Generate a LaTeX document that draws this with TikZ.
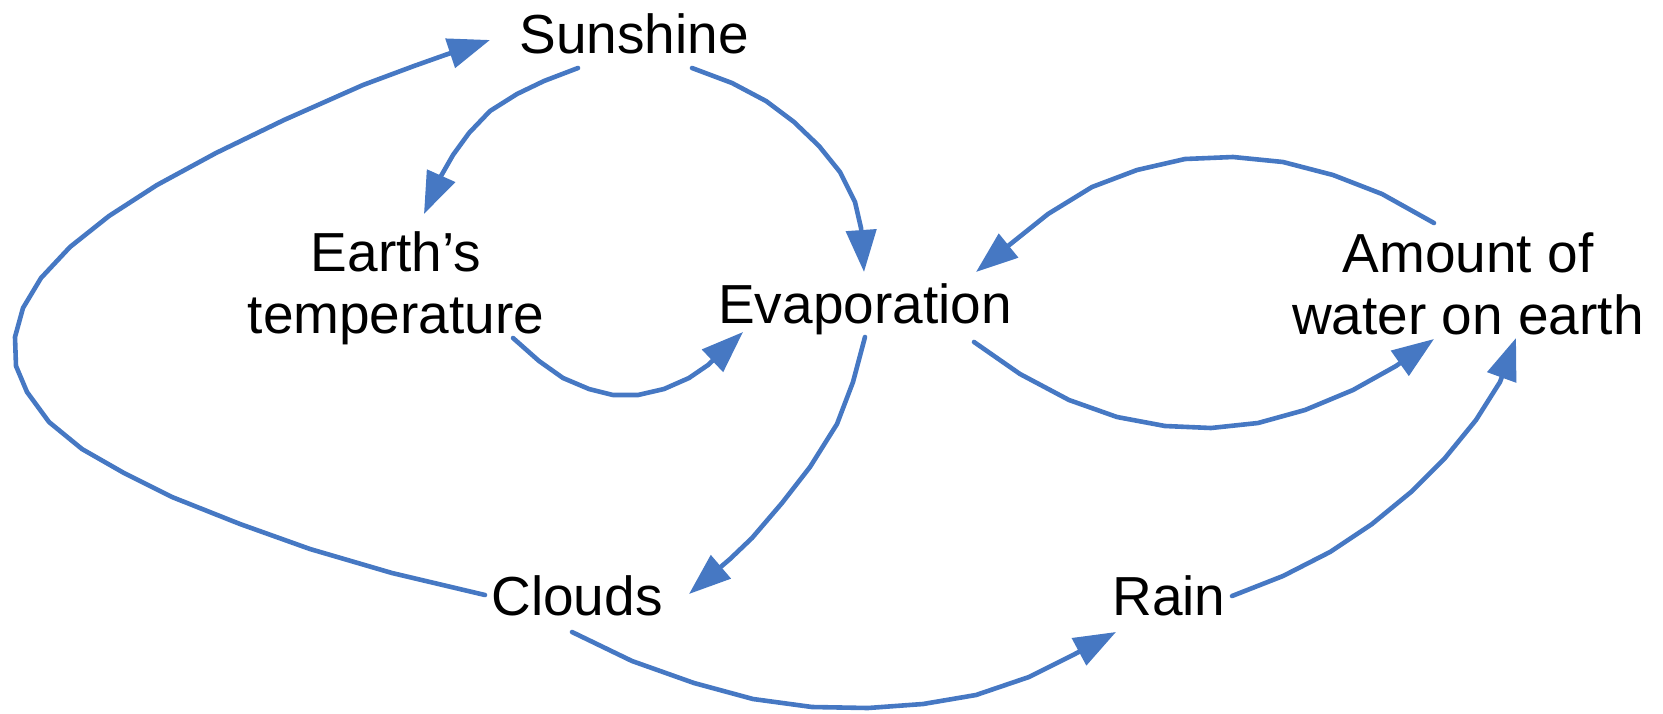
\documentclass[tikz,border=0pt]{standalone}
\usepackage{fontspec}
\setmainfont{Liberation Sans}
\usetikzlibrary{arrows.meta}
\definecolor{linkblue}{RGB}{70,120,195}
\begin{document}
\begin{tikzpicture}[x=1pt,y=-1pt,
  term/.style={font=\fontsize{55}{62}\selectfont, inner sep=0pt, align=center, anchor=base},
  link/.style={draw=linkblue, line width=4.6pt, line join=round, line cap=round,
    -{Triangle[length=42pt,width=30pt]}}]
\useasboundingbox (0,0) rectangle (1663,713);

% variables of the loop (base = baseline of the last line)
\node[term] (sun)    at (634,53)   {Sunshine};
\node[term] (temp)   at (396,333)  {Earth’s\\temperature};
\node[term] (evap)   at (865,323)  {Evaporation};
\node[term] (water)  at (1468,334) {Amount of\\water on earth};
\node[term] (clouds) at (577,615)  {Clouds};
\node[term] (rain)   at (1169,615) {Rain};

% end points of the causal links
\coordinate (sun-to-temp)    at (578,68);
\coordinate (temp-from-sun)  at (424,214);
\coordinate (sun-to-evap)    at (692,68);
\coordinate (evap-from-sun)  at (864,272);
\coordinate (temp-to-evap)   at (513,338);
\coordinate (evap-from-temp) at (743,332);
\coordinate (evap-to-clouds) at (865,337);
\coordinate (clouds-from-evap) at (689,594);
\coordinate (clouds-to-sun)  at (485,595);
\coordinate (sun-from-clouds) at (490,40);
\coordinate (evap-to-water)  at (974,342);
\coordinate (water-from-evap) at (1434,339);
\coordinate (water-to-evap)  at (1434,223);
\coordinate (evap-from-water) at (976,272);
\coordinate (clouds-to-rain) at (572,632);
\coordinate (rain-from-clouds) at (1116,632);
\coordinate (rain-to-water)  at (1232,596);
\coordinate (water-from-rain) at (1516,338);

% Sunshine -> Earth's temperature
\draw[link] (sun-to-temp) -- (544,81) -- (517,94) -- (490,111) -- (469,133)
  -- (453,155) -- (441,176) -- (temp-from-sun);
% Sunshine -> Evaporation
\draw[link] (sun-to-evap) -- (732,83) -- (766,101) -- (794,122) -- (819,146)
  -- (840,172) -- (855,202) -- (861,228) -- (evap-from-sun);
% Earth's temperature -> Evaporation
\draw[link] (temp-to-evap) -- (539,361) -- (563,378) -- (589,389) -- (613,395)
  -- (638,395) -- (664,389) -- (689,378) -- (708,365) -- (evap-from-temp);
% Evaporation -> Clouds
\draw[link] (evap-to-clouds) -- (853,382) -- (837,424) -- (810,467) -- (782,503)
  -- (752,538) -- (730,559) -- (clouds-from-evap);
% Clouds -> Sunshine
\draw[link] (clouds-to-sun) -- (392,573) -- (310,549) -- (240,524) -- (172,497)
  -- (124,473) -- (82,449) -- (49,422) -- (27,392) -- (16,366) -- (15,337)
  -- (23,308) -- (41,278) -- (70,247) -- (109,216) -- (157,185) -- (216,153)
  -- (284,120) -- (363,85) -- (414,66) -- (445,55) -- (sun-from-clouds);
% Evaporation -> Amount of water on earth
\draw[link] (evap-to-water) -- (1020,374) -- (1069,400) -- (1117,417) -- (1165,426)
  -- (1211,428) -- (1258,423) -- (1305,410) -- (1353,390) -- (1396,366)
  -- (water-from-evap);
% Amount of water on earth -> Evaporation
\draw[link] (water-to-evap) -- (1382,194) -- (1333,175) -- (1283,162) -- (1233,157)
  -- (1185,159) -- (1137,170) -- (1092,187) -- (1048,214) -- (1008,246)
  -- (evap-from-water);
% Clouds -> Rain
\draw[link] (clouds-to-rain) -- (632,661) -- (694,683) -- (753,699) -- (812,707)
  -- (868,708) -- (923,704) -- (976,695) -- (1029,677) -- (1073,655)
  -- (rain-from-clouds);
% Rain -> Amount of water on earth
\draw[link] (rain-to-water) -- (1283,576) -- (1330,552) -- (1372,524) -- (1411,492)
  -- (1445,458) -- (1476,420) -- (1500,382) -- (water-from-rain);
\end{tikzpicture}
\end{document}
